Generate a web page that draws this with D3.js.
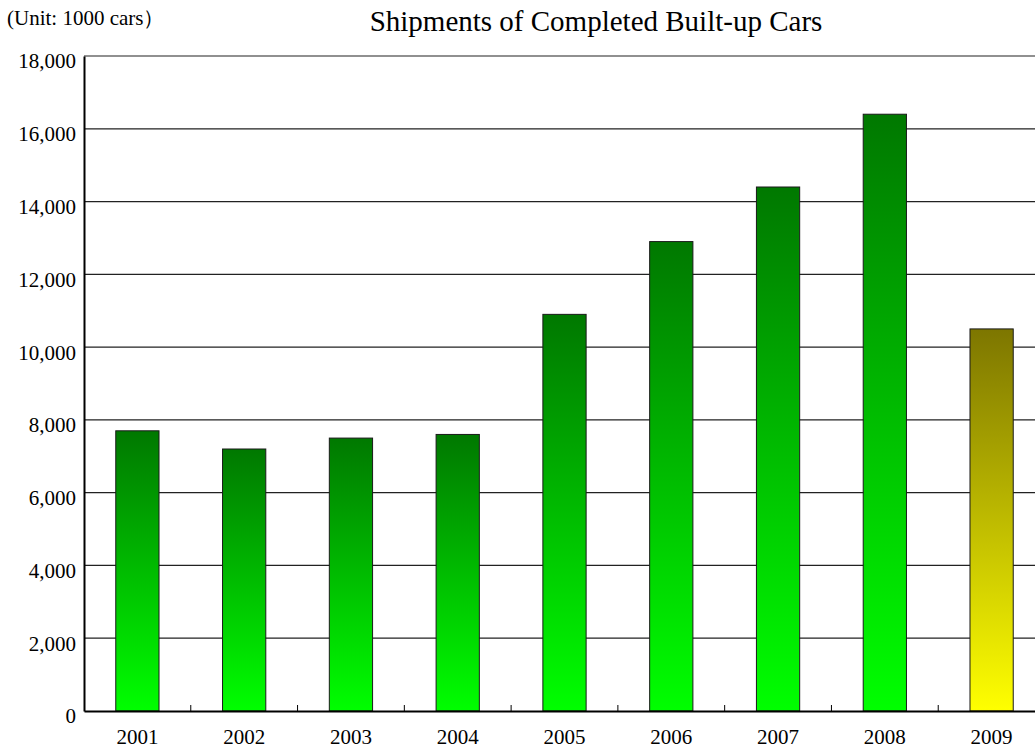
<!DOCTYPE html>
<html lang="en">
<head>
    <meta charset="UTF-8">
    <script src="https://d3js.org/d3.v7.min.js"></script>
    <title>Shipments of Completed Built-up Cars</title>
    <style>
        body { margin: 0; background: #fff; font-family: "Liberation Serif", "Times New Roman", serif; }
        svg { display: block; }
    </style>
</head>
<body>
    <div id="chart"></div>
    <script>
        // data (unit: 1000 cars)
        const years = ["2001", "2002", "2003", "2004", "2005", "2006", "2007", "2008", "2009"];
        const shipments = [7700, 7200, 7500, 7600, 10900, 12900, 14400, 16400, 10500];
        const yTicks = [0, 2000, 4000, 6000, 8000, 10000, 12000, 14000, 16000, 18000];
        const highlightYear = "2009";

        const W = 1035, H = 750;
        const margin = { top: 56, right: -10, bottom: 39, left: 84 };
        const width = W - margin.left - margin.right;
        const height = H - margin.top - margin.bottom;

        const svg = d3.select("#chart").append("svg")
            .attr("width", W).attr("height", H);

        const defs = svg.append("defs");
        const grads = [
            { id: "gGreen", top: "#007800", bottom: "#00ff00" },
            { id: "gYellow", top: "#7d7600", bottom: "#ffff00" }
        ];
        grads.forEach(g => {
            const lg = defs.append("linearGradient").attr("id", g.id)
                .attr("x1", 0).attr("y1", 0).attr("x2", 0).attr("y2", 1);
            lg.append("stop").attr("offset", "0%").attr("stop-color", g.top);
            lg.append("stop").attr("offset", "100%").attr("stop-color", g.bottom);
        });

        const g = svg.append("g").attr("transform", `translate(${margin.left},${margin.top})`);

        const xb = d3.scaleBand().domain(years).range([0, width]);
        const barW = xb.bandwidth() * 0.405;
        const y = d3.scaleLinear().domain([0, 18000]).range([height, 0]);

        // gridlines
        g.append("g").selectAll("line")
            .data(yTicks.filter(d => d > 0))
            .join("line")
            .attr("x1", 0).attr("x2", width)
            .attr("y1", d => y(d)).attr("y2", d => y(d))
            .attr("stroke", "#222").attr("stroke-width", 1.2);

        // bars
        g.append("g").selectAll("rect")
            .data(years.map((yr, i) => ({ yr, v: shipments[i] })))
            .join("rect")
            .attr("x", d => xb(d.yr) + (xb.bandwidth() - barW) / 2)
            .attr("y", d => y(d.v))
            .attr("width", barW)
            .attr("height", d => height - y(d.v))
            .attr("fill", d => d.yr === highlightYear ? "url(#gYellow)" : "url(#gGreen)")
            .attr("stroke", "#1a1a1a").attr("stroke-width", 1);

        // y axis
        const yAxis = g.append("g")
            .call(d3.axisLeft(y).tickValues(yTicks).tickSize(0).tickPadding(8).tickFormat(d3.format(",")));
        yAxis.select(".domain").attr("stroke", "#000").attr("stroke-width", 2);
        yAxis.selectAll("text")
            .attr("font-family", "Liberation Serif, serif").attr("font-size", 21).attr("fill", "#000")
            .attr("dy", "0.57em");

        // x axis
        const xAxis = g.append("g").attr("transform", `translate(0,${height})`)
            .call(d3.axisBottom(xb).tickSize(0).tickPadding(0));
        xAxis.select(".domain").attr("stroke", "#000").attr("stroke-width", 2);
        xAxis.selectAll("text")
            .attr("font-family", "Liberation Serif, serif").attr("font-size", 21).attr("fill", "#000")
            .attr("y", 33).attr("dy", 0);
        // separator ticks between categories
        g.append("g").selectAll("line")
            .data(years.slice(1))
            .join("line")
            .attr("x1", d => xb(d)).attr("x2", d => xb(d))
            .attr("y1", height - 6).attr("y2", height)
            .attr("stroke", "#000").attr("stroke-width", 1);

        // titles
        svg.append("text")
            .attr("x", 7).attr("y", 25)
            .attr("font-size", 21)
            .text("(Unit: 1000 cars）");
        svg.append("text")
            .attr("x", 596).attr("y", 31)
            .attr("text-anchor", "middle")
            .attr("font-size", 29)
            .text("Shipments of Completed Built-up Cars");
    </script>
</body>
</html>
